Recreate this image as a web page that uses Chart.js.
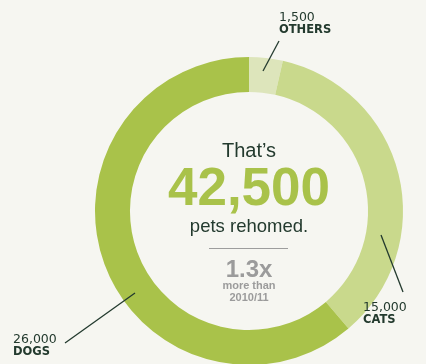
<!DOCTYPE html>
<html>
<head>
<meta charset="utf-8">
<script src="https://cdn.jsdelivr.net/npm/chart.js@4.4.0/dist/chart.umd.min.js"></script>
<style>
  html, body { margin: 0; padding: 0; background: #f6f6f1; overflow: hidden; }
  #wrap { width: 426px; height: 366px; }
</style>
</head>
<body>
<div id="wrap"><canvas id="c" width="426" height="366"></canvas></div>
<script>
// Data
const categories = ['OTHERS', 'CATS', 'DOGS'];
const values = [1500, 15000, 26000];
const valueLabels = ['1,500', '15,000', '26,000'];
const colors = ['#dde5bb', '#c9d98c', '#a9c24a'];
const centerLines = ['That\u2019s', '42,500', 'pets rehomed.', '1.3x', 'more than', '2010/11'];

const darkText = '#233a2e';
const grayText = '#9b9b9b';

// label placement relative to the doughnut centre
const labelSpots = {
  OTHERS: { line: [14, -140, 30, -170], tx: 30, ty: -190 },
  CATS:   { line: [132, 24, 154, 81],  tx: 114, ty: 100 },
  DOGS:   { line: [-114, 82, -184, 132], tx: -236, ty: 132 }
};

const overlay = {
  id: 'overlay',
  afterDatasetsDraw(chart) {
    const arc = chart.getDatasetMeta(0).data[0];
    const cx = arc.x, cy = arc.y;
    const ctx = chart.ctx;
    ctx.save();
    ctx.textAlign = 'center';
    ctx.textBaseline = 'alphabetic';
    // center text
    ctx.fillStyle = darkText;
    ctx.font = '20px "Liberation Sans", Arial, sans-serif';
    ctx.fillText(centerLines[0], cx, cy - 54);
    ctx.fillStyle = colors[2];
    ctx.font = 'bold 53px "Liberation Sans", Arial, sans-serif';
    ctx.fillText(centerLines[1], cx, cy - 6);
    ctx.fillStyle = darkText;
    ctx.font = '18.5px "Liberation Sans", Arial, sans-serif';
    ctx.fillText(centerLines[2], cx, cy + 21);
    // divider
    ctx.strokeStyle = '#9d9d9d';
    ctx.lineWidth = 1.2;
    ctx.beginPath();
    ctx.moveTo(cx - 40, cy + 37.5);
    ctx.lineTo(cx + 39, cy + 37.5);
    ctx.stroke();
    ctx.fillStyle = grayText;
    ctx.font = 'bold 24px "Liberation Sans", Arial, sans-serif';
    ctx.fillText(centerLines[3], cx, cy + 66);
    ctx.font = 'bold 11px "Liberation Sans", Arial, sans-serif';
    ctx.fillText(centerLines[4], cx, cy + 78);
    ctx.fillText(centerLines[5], cx, cy + 90);

    // outer labels
    ctx.textAlign = 'left';
    categories.forEach((cat, i) => {
      const s = labelSpots[cat];
      ctx.strokeStyle = darkText;
      ctx.lineWidth = 1.3;
      ctx.beginPath();
      ctx.moveTo(cx + s.line[0], cy + s.line[1]);
      ctx.lineTo(cx + s.line[2], cy + s.line[3]);
      ctx.stroke();
      ctx.fillStyle = darkText;
      ctx.font = '12.5px "DejaVu Sans", sans-serif';
      ctx.fillText(valueLabels[i], cx + s.tx, cy + s.ty);
      ctx.font = 'bold 11.5px "DejaVu Sans", sans-serif';
      ctx.fillText(cat, cx + s.tx, cy + s.ty + 12);
    });
    ctx.restore();
  }
};

new Chart(document.getElementById('c'), {
  type: 'doughnut',
  data: {
    labels: categories,
    datasets: [{
      data: values,
      backgroundColor: colors,
      borderWidth: 0,
      hoverOffset: 0,
      offset: 0
    }]
  },
  options: {
    responsive: false,
    animation: false,
    events: [],
    cutout: '77.3%',
    layout: { padding: { top: 57, left: 95, right: 23, bottom: 1 } },
    plugins: { legend: { display: false }, tooltip: { enabled: false } }
  },
  plugins: [overlay]
});
</script>
</body>
</html>
